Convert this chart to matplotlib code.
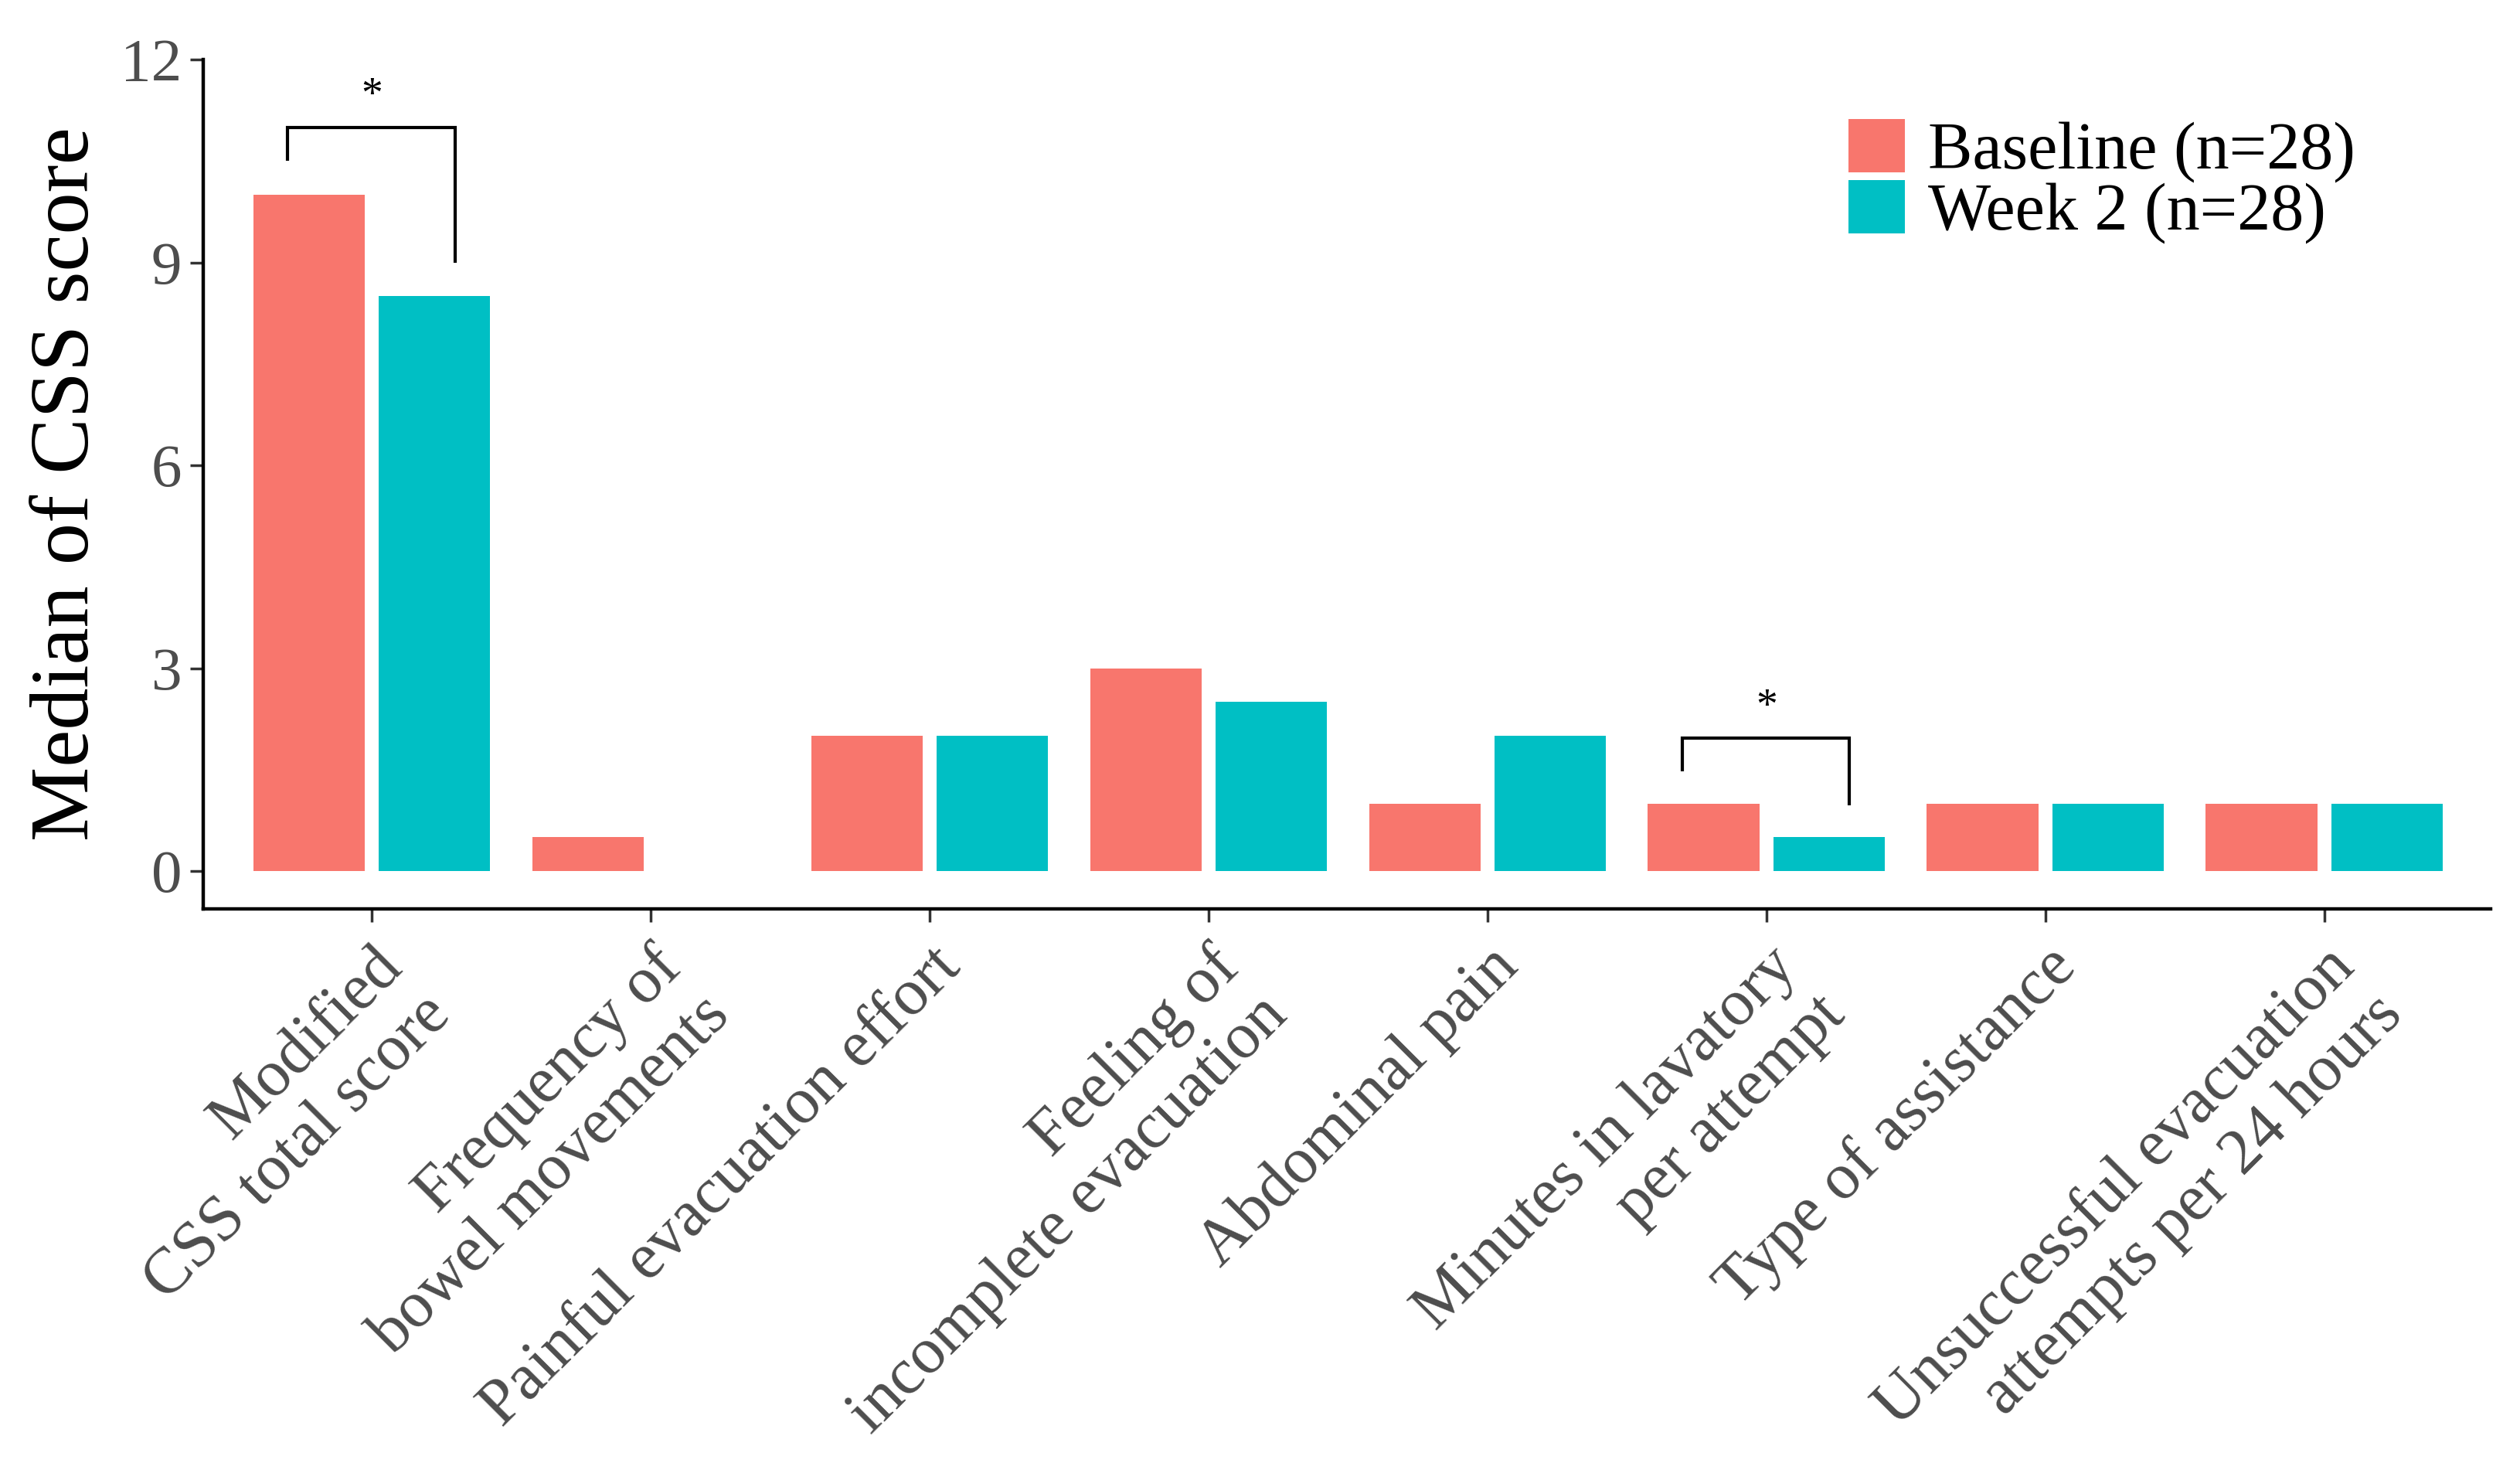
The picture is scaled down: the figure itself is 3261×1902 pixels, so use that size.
import matplotlib
matplotlib.use("Agg")
import matplotlib.pyplot as plt
import numpy as np
from matplotlib.patches import Patch

categories = ["Modified\nCSS total score", "Frequency of\nbowel movements",
              "Painful evacuation effort", "Feeling of\nincomplete evacuation",
              "Abdominal pain", "Minutes in lavatory\nper attempt",
              "Type of assistance", "Unsuccessful evacuation\nattempts per 24 hours"]
baseline = [10, 0.5, 2, 3, 1, 1, 1, 1]
week2 = [8.5, 0, 2, 2.5, 2, 0.5, 1, 1]
series_names = ["Baseline (n=28)", "Week 2 (n=28)"]
colors = ["#F8766D", "#00BFC4"]
yticks = [0, 3, 6, 9, 12]
# significance brackets: (category index, left tip y, top y, right tip y)
brackets = [(0, 10.5, 11.0, 9.0), (5, 1.47, 1.97, 0.97)]

plt.rcParams['font.family'] = ['Liberation Serif', 'DejaVu Serif']

W, H, DPI = 3262, 1902, 100
fig = plt.figure(figsize=(W / DPI, H / DPI), dpi=DPI)
ax = fig.add_axes([263 / W, 1 - 1176 / H, (3223 - 263) / W, (1176 - 77) / H])

x = np.arange(1, len(categories) + 1)
off = 0.225
bw = 0.40
ax.bar(x - off, baseline, width=bw, color=colors[0], label=series_names[0])
ax.bar(x + off, week2, width=bw, color=colors[1], label=series_names[1])

for idx, yl, yt, yr in brackets:
    cx = x[idx]
    xl, xr = cx - 0.303, cx + 0.298
    ax.plot([xl, xl, xr, xr], [yl, yt, yt, yr], color="black", lw=3.0,
            solid_joinstyle="miter", solid_capstyle="butt")
    ax.text(cx, yt + 0.15, "*", ha="center", va="bottom", fontsize=40, color="black")

ax.set_xlim(0.396, 8.596)
ax.set_ylim(-0.56, 12)
ax.set_yticks(yticks)
ax.set_yticklabels([str(v) for v in yticks])
ax.set_xticks(x)
ax.set_xticklabels(categories, rotation=45, ha="right", va="top",
                   rotation_mode="anchor", multialignment="right",
                   linespacing=1.18)

for s in ["top", "right"]:
    ax.spines[s].set_visible(False)
for s in ["left", "bottom"]:
    ax.spines[s].set_linewidth(3.2)
    ax.spines[s].set_color("black")

ax.tick_params(axis="both", length=12, width=2.5, color="#333333",
               labelcolor="#4D4D4D", pad=8)
ax.tick_params(axis="y", labelsize=57)
ax.tick_params(axis="x", labelsize=61, pad=14)
ax.set_ylabel("Median of CSS score", fontsize=78, color="black", labelpad=14)

handles = [Patch(facecolor=c, edgecolor="none") for c in colors]
leg = fig.legend(handles, series_names, loc="upper left",
                 bbox_to_anchor=(2392 / W, 1 - 154 / H),
                 frameon=False, fontsize=62, handlelength=0.85, handleheight=0.85,
                 handletextpad=0.35, labelspacing=-0.05, borderpad=0, borderaxespad=0)

fig.savefig("out.png", dpi=DPI)
